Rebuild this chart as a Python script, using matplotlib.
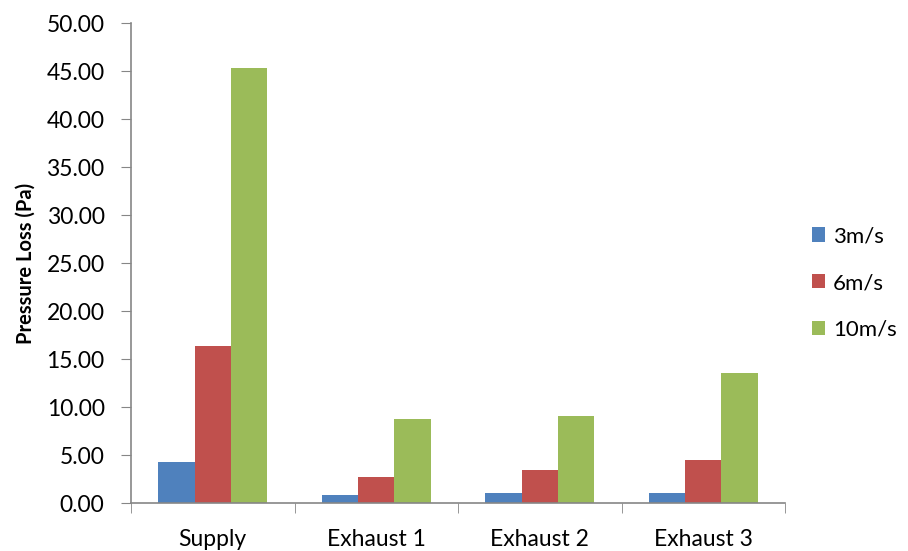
import matplotlib
matplotlib.use("Agg")
import matplotlib.pyplot as plt
import numpy as np

categories = ["Supply", "Exhaust 1", "Exhaust 2", "Exhaust 3"]
series_names = ["3m/s", "6m/s", "10m/s"]
v_3ms = [4.24, 0.87, 1.04, 1.01]
v_6ms = [16.32, 2.71, 3.40, 4.48]
v_10ms = [45.30, 8.75, 9.06, 13.57]
y_ticks = [0, 5, 10, 15, 20, 25, 30, 35, 40, 45, 50]

colors = ["#4F81BD", "#C0504D", "#9BBB59"]
plt.rcParams["font.family"] = ["Lato", "DejaVu Sans"]

fig = plt.figure(figsize=(9.08, 5.51), dpi=100)
ax = fig.add_axes([131 / 908, 1 - 503 / 551, (785 - 131) / 908, (503 - 23) / 551])

x = np.arange(len(categories))
bw = 1 / 4.5
for i, (vals, name, c) in enumerate(zip([v_3ms, v_6ms, v_10ms], series_names, colors)):
    ax.bar(x + (i - 1) * bw, vals, width=bw, color=c, label=name, edgecolor="none")

ax.set_xlim(-0.5, len(categories) - 0.5)
ax.set_ylim(0, 50)
ax.set_yticks(y_ticks)
ax.set_yticklabels([f"{t:.2f}" for t in y_ticks], fontsize=16.5)
ax.set_xticks(x)
ax.set_xticklabels(categories, fontsize=16.5)
ax.set_xticks(np.arange(len(categories) + 1) - 0.5, minor=True)
ax.tick_params(axis="x", which="major", length=0, pad=19)
ax.tick_params(axis="x", which="minor", length=7, color="#868686", direction="out")
ax.tick_params(axis="y", length=7, color="#868686", direction="out", pad=12)

for s in ["top", "right"]:
    ax.spines[s].set_visible(False)
for s in ["left", "bottom"]:
    ax.spines[s].set_color("#868686")
    ax.spines[s].set_linewidth(1.2)

ax.set_ylabel("Pressure Loss (Pa)", fontsize=14.5, fontweight="bold", labelpad=8)

ax.legend(loc="center left", bbox_to_anchor=(812 / 908, 1 - 283 / 551), bbox_transform=fig.transFigure,
          frameon=False, fontsize=16, handlelength=0.6, handleheight=0.6,
          handletextpad=0.35, labelspacing=1.2, borderaxespad=0, borderpad=0)

fig.savefig("out.png", dpi=100)
